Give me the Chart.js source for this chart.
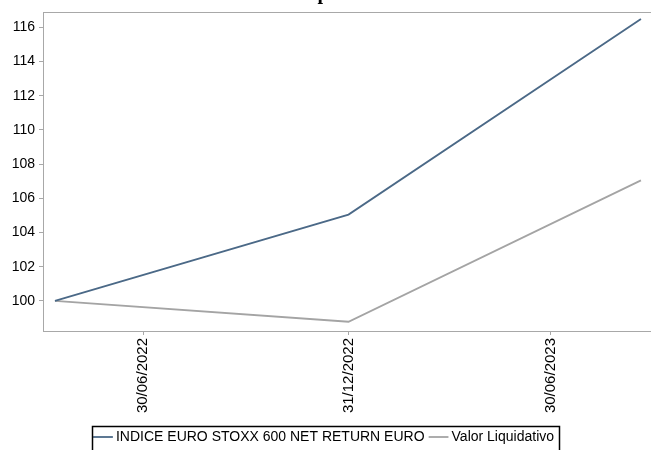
<!DOCTYPE html>
<html><head><meta charset="utf-8">
<script src="https://cdn.jsdelivr.net/npm/chart.js@4"></script>
<style>html,body{margin:0;padding:0;background:#fff;}#c{display:block;}</style>
</head><body>
<canvas id="c" width="651" height="450"></canvas>
<script>
const dates = ['2022-04-12', '2022-12-31', '2023-09-19'];
const indexValues = [100, 105.05, 116.5];
const fundValues = [100, 98.78, 107.05];
const seriesNames = ['INDICE EURO STOXX 600 NET RETURN EURO', 'Valor Liquidativo'];
const xTickDates = ['2022-06-30', '2022-12-31', '2023-06-30'];
const yTicks = [100, 102, 104, 106, 108, 110, 112, 114, 116];

const DAY = 86400000;
const toDay = s => Date.parse(s + 'T00:00:00Z') / DAY;
const fmt = d => { const dt = new Date(d * DAY); const p = n => String(n).padStart(2, '0');
  return p(dt.getUTCDate()) + '/' + p(dt.getUTCMonth() + 1) + '/' + dt.getUTCFullYear(); };

const frame = {
  id: 'frame',
  afterDraw(chart) {
    const ctx = chart.ctx, a = chart.chartArea;
    ctx.save();
    ctx.strokeStyle = '#a8a8a8'; ctx.lineWidth = 1;
    ctx.strokeRect(Math.round(a.left) + 0.5, Math.round(a.top) + 0.5, Math.round(a.right - a.left), Math.round(a.bottom - a.top));
    const lg = chart.legend;
    if (lg && lg.legendHitBoxes.length) {
      const hb = lg.legendHitBoxes;
      const l = Math.min(...hb.map(h => h.left)) - 5;
      const r = Math.max(...hb.map(h => h.left + h.width)) + 5;
      const t = Math.min(...hb.map(h => h.top)) - 4;
      ctx.strokeStyle = '#000'; ctx.lineWidth = 1.5;
      ctx.strokeRect(Math.round(l) + 0.5, Math.round(t) + 0.5, Math.round(r - l), 40);
    }
    ctx.fillStyle = '#000';
    ctx.font = 'bold 20px "Liberation Serif"';
    ctx.textAlign = 'center'; ctx.textBaseline = 'alphabetic';
    ctx.fillText('p', 323, -1);
    ctx.restore();
  }
};

new Chart(document.getElementById('c'), {
  type: 'line',
  data: {
    datasets: [
      { label: seriesNames[0], data: dates.map((d, i) => ({ x: toDay(d), y: indexValues[i] })),
        borderColor: '#4b6987', backgroundColor: '#4b6987', borderWidth: 1.8, pointRadius: 0, tension: 0 },
      { label: seriesNames[1], data: dates.map((d, i) => ({ x: toDay(d), y: fundValues[i] })),
        borderColor: '#a4a4a4', backgroundColor: '#a4a4a4', borderWidth: 1.8, pointRadius: 0, tension: 0 }
    ]
  },
  options: {
    responsive: false, animation: false,
    layout: { padding: { top: 12, right: 0, left: 0, bottom: -4 } },
    plugins: {
      title: { display: false }, tooltip: { enabled: false },
      legend: {
        position: 'bottom',
        labels: { usePointStyle: true, pointStyle: 'line', boxWidth: 12, color: '#000', padding: 8,
          font: { family: '"Liberation Sans", Arial', size: 14 } }
      }
    },
    scales: {
      x: {
        type: 'linear',
        min: toDay(dates[0]) - 10.7, max: toDay(dates[2]) + 9,
        afterBuildTicks: s => { s.ticks = xTickDates.map(d => ({ value: toDay(d) })); },
        afterFit: s => { s.height = 91; },
        grid: { display: true, drawOnChartArea: false, drawTicks: true, tickLength: 4, color: '#a8a8a8' },
        border: { display: false },
        ticks: { minRotation: 90, maxRotation: 90, autoSkip: false, color: '#000', padding: 3,
          font: { family: '"Liberation Sans", Arial', size: 15 }, callback: v => fmt(v) }
      },
      y: {
        min: 98.24, max: 116.88,
        afterBuildTicks: s => { s.ticks = yTicks.map(v => ({ value: v })); },
        afterFit: s => { s.width = 43; },
        grid: { display: true, drawOnChartArea: false, drawTicks: true, tickLength: 4, color: '#a8a8a8' },
        border: { display: false },
        ticks: { color: '#000', padding: 4, font: { family: '"Liberation Sans", Arial', size: 14 } }
      }
    }
  },
  plugins: [frame]
});
</script>
</body></html>
